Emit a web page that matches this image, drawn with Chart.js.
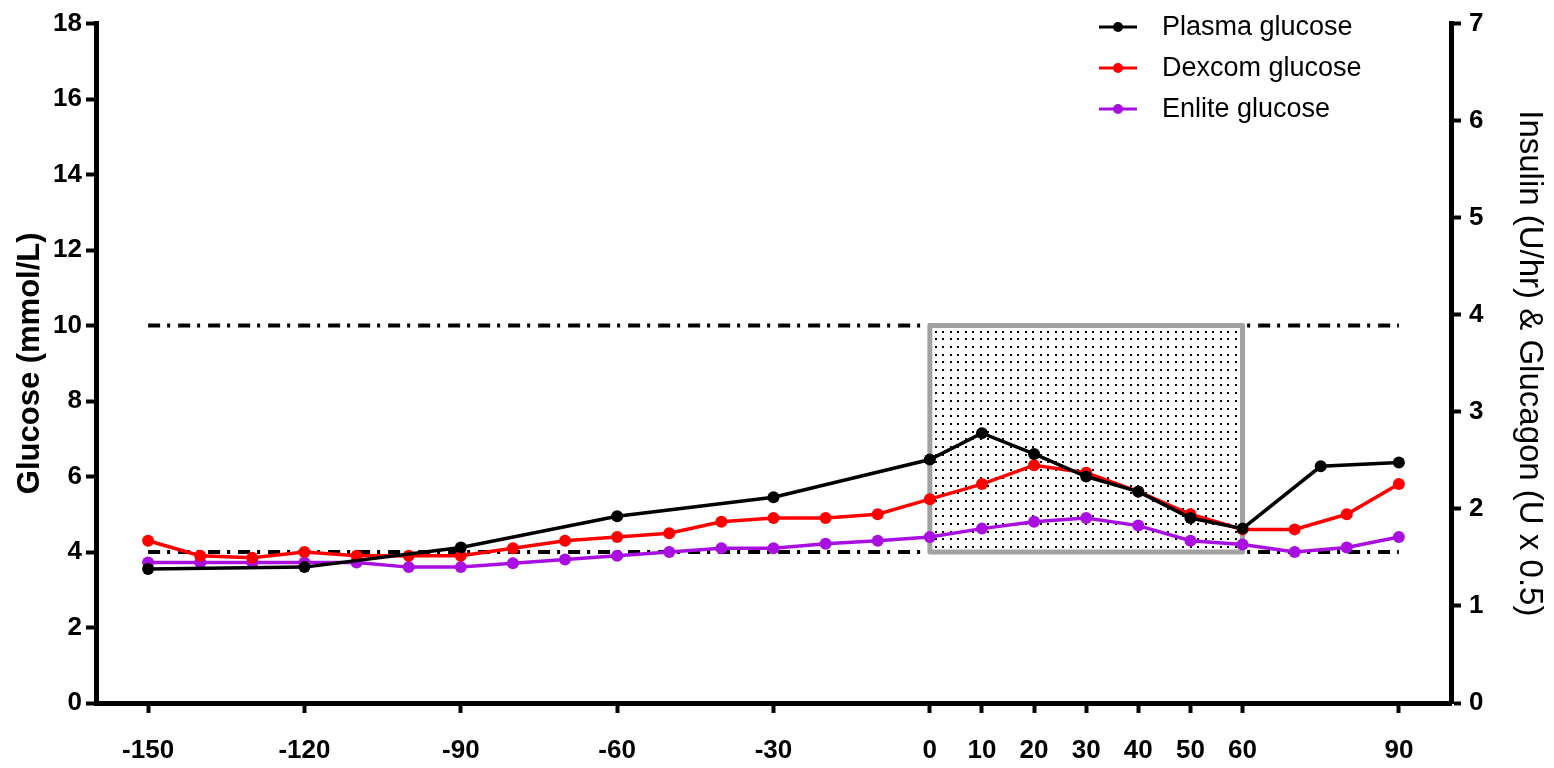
<!DOCTYPE html>
<html lang="en">
<head>
    <meta charset="UTF-8">
    <title>Glucose profile</title>
    <script src="https://cdn.jsdelivr.net/npm/chart.js@4.4.1/dist/chart.umd.min.js"></script>
    <style>
        body { margin: 0; background: #fff; }
        #wrap { width: 1554px; height: 768px; position: relative; }
    </style>
</head>
<body>
    <div id="wrap"><canvas id="glucoseChart"></canvas></div>

    <script>
        // time points (min)
        const plasmaTimes = [-150, -120, -90, -60, -30, 0, 10, 20, 30, 40, 50, 60, 75, 90];
        const sensorTimes = [-150, -140, -130, -120, -110, -100, -90, -80, -70, -60, -50, -40, -30,
                             -20, -10, 0, 10, 20, 30, 40, 50, 60, 70, 80, 90];

        // glucose readings (mmol/L)
        const plasmaGlucose = [3.55, 3.6, 4.12, 4.95, 5.45, 6.45, 7.15, 6.6, 6.0, 5.6, 4.9, 4.62, 6.27, 6.37];
        const dexcomGlucose = [4.3, 3.9, 3.85, 4.0, 3.9, 3.9, 3.9, 4.1, 4.3, 4.4, 4.5, 4.8, 4.9,
                               4.9, 5.0, 5.4, 5.8, 6.3, 6.1, 5.6, 5.0, 4.6, 4.6, 5.0, 5.8];
        const enliteGlucose = [3.72, 3.72, 3.72, 3.72, 3.72, 3.6, 3.6, 3.7, 3.8, 3.9, 4.0, 4.1, 4.1,
                               4.22, 4.3, 4.4, 4.62, 4.8, 4.9, 4.7, 4.3, 4.2, 4.0, 4.12, 4.4];

        const xTickValues = [-150, -120, -90, -60, -30, 0, 10, 20, 30, 40, 50, 60, 90];

        // target band and the exercise window
        const targetRange = [4, 10];
        const targetSpan = [-150, 90];
        const shadedWindow = [0, 60];

        const FONT = "'Liberation Sans', Arial, sans-serif";

        function toPoints(xs, ys) {
            return xs.map((x, i) => ({ x: x, y: ys[i] }));
        }

        function series(label, xs, ys, color) {
            return {
                label: label,
                data: toPoints(xs, ys),
                borderColor: color,
                backgroundColor: color,
                borderWidth: 3.5,
                pointRadius: 6,
                pointBorderWidth: 0,
                tension: 0,
                yAxisID: 'y'
            };
        }

        // dash-dot target lines + dotted box, drawn under the data
        const bandPlugin = {
            id: 'band',
            beforeDatasetsDraw(chart) {
                const ctx = chart.ctx;
                const xs = chart.scales.x, ys = chart.scales.y;
                ctx.save();
                ctx.strokeStyle = '#000';
                ctx.lineWidth = 4;
                ctx.setLineDash([12, 7, 3, 8]);
                targetRange.forEach(v => {
                    const py = ys.getPixelForValue(v);
                    ctx.beginPath();
                    ctx.moveTo(xs.getPixelForValue(targetSpan[0]), py);
                    ctx.lineTo(xs.getPixelForValue(targetSpan[1]), py);
                    ctx.stroke();
                });
                ctx.setLineDash([]);

                const left = xs.getPixelForValue(shadedWindow[0]);
                const right = xs.getPixelForValue(shadedWindow[1]);
                const top = ys.getPixelForValue(targetRange[1]);
                const bottom = ys.getPixelForValue(targetRange[0]);
                ctx.fillStyle = '#fff';
                ctx.fillRect(left, top, right - left, bottom - top);
                ctx.fillStyle = '#000';
                for (let py = top + 5; py < bottom - 2; py += 7.7) {
                    for (let px = left + 5; px < right - 2; px += 7.5) {
                        ctx.fillRect(Math.round(px), Math.round(py), 2, 2);
                    }
                }
                ctx.strokeStyle = '#a2a2a4';
                ctx.lineWidth = 5;
                ctx.lineJoin = 'round';
                ctx.strokeRect(left, top, right - left, bottom - top);
                ctx.restore();
            }
        };

        // legend: line with marker, stacked at top right
        const legendPlugin = {
            id: 'sideLegend',
            afterDraw(chart) {
                const ctx = chart.ctx;
                const rows = [27, 68, 109];
                ctx.save();
                chart.data.datasets.forEach((ds, i) => {
                    const y = rows[i];
                    ctx.strokeStyle = ds.borderColor;
                    ctx.lineWidth = 3;
                    ctx.beginPath();
                    ctx.moveTo(1099, y);
                    ctx.lineTo(1137, y);
                    ctx.stroke();
                    ctx.fillStyle = ds.borderColor;
                    ctx.beginPath();
                    ctx.arc(1118, y, 5, 0, Math.PI * 2);
                    ctx.fill();
                    ctx.fillStyle = '#000';
                    ctx.font = '27px ' + FONT;
                    ctx.textBaseline = 'middle';
                    ctx.fillText(ds.label, 1162, y + 1);
                });
                ctx.restore();
            }
        };

        const axisGrid = {
            display: true,
            drawOnChartArea: false,
            drawTicks: true,
            tickLength: 10,
            tickWidth: 4,
            tickColor: '#000'
        };
        const axisBorder = { display: true, width: 5, color: '#000' };
        const tickFont = { family: FONT, size: 26, weight: 'bold' };

        new Chart(document.getElementById('glucoseChart'), {
            type: 'line',
            data: {
                datasets: [
                    series('Plasma glucose', plasmaTimes, plasmaGlucose, '#000000'),
                    series('Dexcom glucose', sensorTimes, dexcomGlucose, '#ff0000'),
                    series('Enlite glucose', sensorTimes, enliteGlucose, '#a80fe0')
                ]
            },
            options: {
                responsive: true,
                maintainAspectRatio: false,
                animation: false,
                layout: { padding: { top: 22, left: 0, right: 0, bottom: 0 } },
                plugins: {
                    legend: { display: false },
                    tooltip: { enabled: false }
                },
                scales: {
                    x: {
                        type: 'linear',
                        min: -160,
                        max: 100,
                        grid: axisGrid,
                        border: axisBorder,
                        ticks: {
                            autoSkip: false,
                            maxRotation: 0,
                            padding: 22,
                            color: '#000',
                            font: tickFont
                        },
                        afterBuildTicks(scale) {
                            scale.ticks = xTickValues.map(v => ({ value: v }));
                        },
                        afterFit(scale) { scale.height = 65; }
                    },
                    y: {
                        position: 'left',
                        min: 0,
                        max: 18,
                        grid: axisGrid,
                        border: axisBorder,
                        ticks: {
                            stepSize: 2,
                            padding: 4,
                            color: '#000',
                            font: tickFont
                        },
                        title: {
                            display: true,
                            text: 'Glucose (mmol/L)',
                            color: '#000',
                            padding: { top: 12, bottom: 0 },
                            font: { family: FONT, size: 31, weight: 'bold' }
                        },
                        afterFit(scale) { scale.width = 96; }
                    },
                    y2: {
                        position: 'right',
                        min: 0,
                        max: 7,
                        grid: axisGrid,
                        border: axisBorder,
                        ticks: {
                            stepSize: 1,
                            padding: 8,
                            color: '#000',
                            font: tickFont
                        },
                        title: {
                            display: true,
                            text: 'Insulin (U/hr) & Glucagon (U x 0.5)',
                            color: '#000',
                            padding: { top: 5, bottom: 0 },
                            font: { family: FONT, size: 33, weight: 'normal' }
                        },
                        afterFit(scale) { scale.width = 103; }
                    }
                }
            },
            plugins: [bandPlugin, legendPlugin]
        });
    </script>
</body>
</html>
